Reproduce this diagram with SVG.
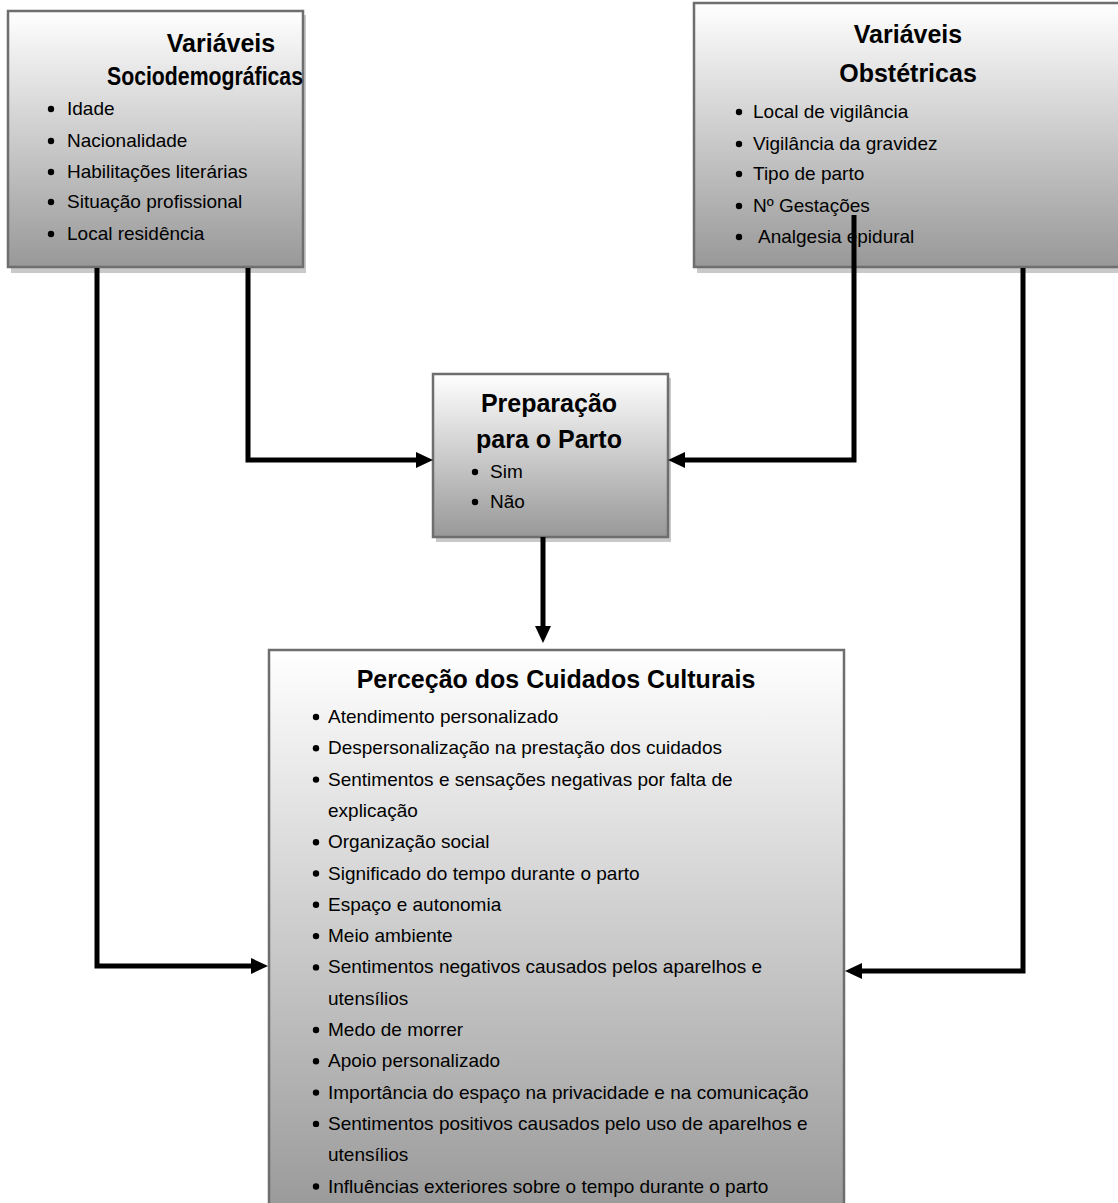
<svg xmlns="http://www.w3.org/2000/svg" width="1118" height="1203" viewBox="0 0 1118 1203">
  <defs>
    <linearGradient id="g" x1="0" y1="0" x2="0" y2="1">
      <stop offset="0" stop-color="#ffffff"/>
      <stop offset="1" stop-color="#989898"/>
    </linearGradient>
    <marker id="ah" markerUnits="userSpaceOnUse" markerWidth="18" markerHeight="18" refX="1" refY="8" orient="auto">
      <path d="M0,0 L17,8 L0,16 Z" fill="#000"/>
    </marker>
    <style>
      .box { fill: url(#g); stroke: #6e6e6e; stroke-width: 2.5; }
      .shadow { fill: #c9c9c9; }
      .title { font-family: "Liberation Sans", Arial, sans-serif; font-weight: bold; font-size: 25px; fill: #000; text-anchor: middle; }
      .item { font-family: "Liberation Sans", Arial, sans-serif; font-size: 19px; fill: #000; }
      .dot { fill: #000; }
      .conn { fill: none; stroke: #000; stroke-width: 5; stroke-linejoin: miter; stroke-linecap: butt; }
    </style>
  </defs>
  <rect width="1118" height="1203" fill="#fff"/>

  <g id="node-sociodemograficas">
    <rect class="shadow" x="11" y="15" width="295" height="258"/>
    <rect class="box" x="8" y="11" width="295" height="256"/>
    <text class="title" x="221" y="52">Variáveis</text>
    <text class="title" x="205" y="85" textLength="196" lengthAdjust="spacingAndGlyphs">Sociodemográficas</text>
    <circle class="dot" cx="51" cy="109" r="3.2"/><text class="item" x="67" y="115">Idade</text>
    <circle class="dot" cx="51" cy="141" r="3.2"/><text class="item" x="67" y="147">Nacionalidade</text>
    <circle class="dot" cx="51" cy="172" r="3.2"/><text class="item" x="67" y="178">Habilitações literárias</text>
    <circle class="dot" cx="51" cy="202" r="3.2"/><text class="item" x="67" y="208">Situação profissional</text>
    <circle class="dot" cx="51" cy="234" r="3.2"/><text class="item" x="67" y="240">Local residência</text>
  </g>

  <g id="node-obstetricas">
    <rect class="shadow" x="697" y="7" width="440" height="266"/>
    <rect class="box" x="694" y="3" width="440" height="264"/>
    <text class="title" x="908" y="43">Variáveis</text>
    <text class="title" x="908" y="82">Obstétricas</text>
    <circle class="dot" cx="739" cy="112" r="3.2"/><text class="item" x="753" y="118">Local de vigilância</text>
    <circle class="dot" cx="739" cy="144" r="3.2"/><text class="item" x="753" y="150">Vigilância da gravidez</text>
    <circle class="dot" cx="739" cy="174" r="3.2"/><text class="item" x="753" y="180">Tipo de parto</text>
    <circle class="dot" cx="739" cy="206" r="3.2"/><text class="item" x="753" y="212">Nº Gestações</text>
    <circle class="dot" cx="739" cy="237" r="3.2"/><text class="item" x="758" y="243">Analgesia epidural</text>
  </g>

  <g id="node-preparacao">
    <rect class="shadow" x="436" y="378" width="235" height="164"/>
    <rect class="box" x="433" y="374" width="235" height="163"/>
    <text class="title" x="549" y="412">Preparação</text>
    <text class="title" x="549" y="448">para o Parto</text>
    <circle class="dot" cx="475" cy="472" r="3.2"/><text class="item" x="490" y="478">Sim</text>
    <circle class="dot" cx="475" cy="502" r="3.2"/><text class="item" x="490" y="508">Não</text>
  </g>

  <g id="node-percecao">
    <rect class="box" x="269" y="650" width="575" height="570"/>
    <text class="title" x="556" y="688">Perceção dos Cuidados Culturais</text>
    <g>
      <circle class="dot" cx="316" cy="717" r="3.2"/><text class="item" x="328" y="723">Atendimento personalizado</text>
      <circle class="dot" cx="316" cy="748.3" r="3.2"/><text class="item" x="328" y="754.3">Despersonalização na prestação dos cuidados</text>
      <circle class="dot" cx="316" cy="779.6" r="3.2"/><text class="item" x="328" y="785.6">Sentimentos e sensações negativas por falta de</text>
      <text class="item" x="328" y="816.9">explicação</text>
      <circle class="dot" cx="316" cy="842.2" r="3.2"/><text class="item" x="328" y="848.2">Organização social</text>
      <circle class="dot" cx="316" cy="873.5" r="3.2"/><text class="item" x="328" y="879.5">Significado do tempo durante o parto</text>
      <circle class="dot" cx="316" cy="904.8" r="3.2"/><text class="item" x="328" y="910.8">Espaço e autonomia</text>
      <circle class="dot" cx="316" cy="936.1" r="3.2"/><text class="item" x="328" y="942.1">Meio ambiente</text>
      <circle class="dot" cx="316" cy="967.4" r="3.2"/><text class="item" x="328" y="973.4">Sentimentos negativos causados pelos aparelhos e</text>
      <text class="item" x="328" y="1004.7">utensílios</text>
      <circle class="dot" cx="316" cy="1030" r="3.2"/><text class="item" x="328" y="1036">Medo de morrer</text>
      <circle class="dot" cx="316" cy="1061.3" r="3.2"/><text class="item" x="328" y="1067.3">Apoio personalizado</text>
      <circle class="dot" cx="316" cy="1092.6" r="3.2"/><text class="item" x="328" y="1098.6">Importância do espaço na privacidade e na comunicação</text>
      <circle class="dot" cx="316" cy="1123.9" r="3.2"/><text class="item" x="328" y="1129.9">Sentimentos positivos causados pelo uso de aparelhos e</text>
      <text class="item" x="328" y="1161.2">utensílios</text>
      <circle class="dot" cx="316" cy="1186.5" r="3.2"/><text class="item" x="328" y="1192.5">Influências exteriores sobre o tempo durante o parto</text>
    </g>
  </g>

  <g id="connectors">
    <path class="conn" d="M97,268 V966 H252" marker-end="url(#ah)"/>
    <path class="conn" d="M248,268 V460 H417" marker-end="url(#ah)"/>
    <path class="conn" d="M854,215 V460 H684" marker-end="url(#ah)"/>
    <path class="conn" d="M1023,268 V971 H861" marker-end="url(#ah)"/>
    <path class="conn" d="M543,537 V627" marker-end="url(#ah)"/>
  </g>
</svg>
